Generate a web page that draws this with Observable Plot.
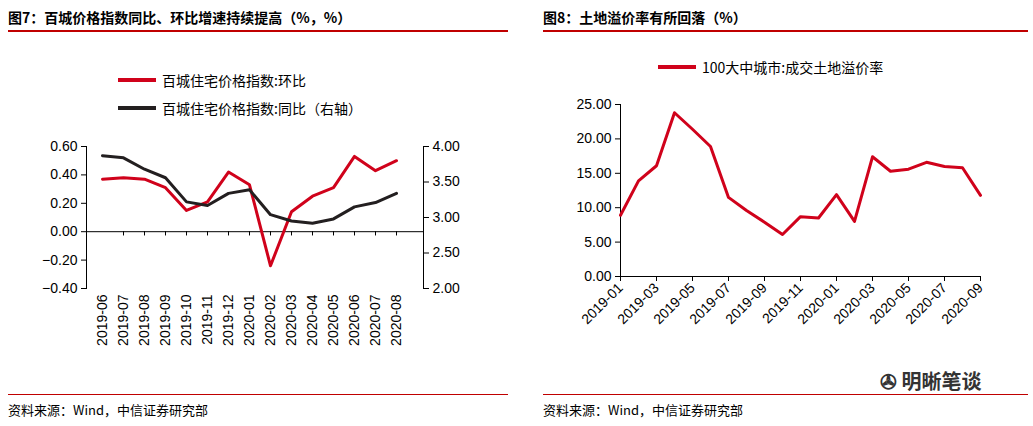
<!DOCTYPE html>
<html><head><meta charset="utf-8">
<script src="https://cdn.jsdelivr.net/npm/d3@7"></script>
<script src="https://cdn.jsdelivr.net/npm/@observablehq/plot@0.6"></script>
<style>
body{margin:0;width:1033px;height:426px;background:#fff;font-family:"Noto Sans CJK SC",sans-serif;position:relative;overflow:hidden}
.abs{position:absolute}
.title{font-size:14px;font-weight:bold;color:#000}
.foot{font-size:13px;color:#000}
.hr{height:2px;background:#c00000}
.hr2{height:1px;background:#c00000}
.leg{font-size:14px;display:flex;align-items:center;gap:6px}
.sw{width:38px;height:4px}
svg text{font-family:Arial,"Liberation Sans",sans-serif}
</style></head><body>
<div class="abs title" style="left:8px;top:7px">图7：百城价格指数同比、环比增速持续提高（%，%）</div>
<div class="abs hr" style="left:8px;top:30px;width:500px"></div>
<div class="abs title" style="left:543px;top:7px">图8：土地溢价率有所回落（%）</div>
<div class="abs hr" style="left:543px;top:30px;width:485px"></div>
<div class="abs hr2" style="left:8px;top:394px;width:500px"></div>
<div class="abs hr2" style="left:543px;top:394px;width:485px"></div>
<div class="abs foot" style="left:8px;top:400px">资料来源：Wind，中信证券研究部</div>
<div class="abs foot" style="left:543px;top:400px">资料来源：Wind，中信证券研究部</div>
<div class="abs" style="left:880px;top:366px;font-size:20px;color:#333;font-weight:bold">✇ 明晰笔谈</div>
<div class="abs leg" style="left:118px;top:70px"><div class="sw" style="background:#d0021b"></div>百城住宅价格指数:环比</div>
<div class="abs leg" style="left:118px;top:98px"><div class="sw" style="background:#231f20"></div>百城住宅价格指数:同比（右轴）</div>
<div class="abs leg" style="left:658px;top:57px"><div class="sw" style="background:#d0021b"></div>100大中城市:成交土地溢价率</div>
<div id="c1" class="abs" style="left:0;top:135px"></div>
<div id="c2" class="abs" style="left:540px;top:95px"></div>
<script>
const months1=["2019-06","2019-07","2019-08","2019-09","2019-10","2019-11","2019-12","2020-01","2020-02","2020-03","2020-04","2020-05","2020-06","2020-07","2020-08"];
const mom=[0.37,0.38,0.37,0.31,0.15,0.21,0.42,0.33,-0.24,0.14,0.25,0.31,0.53,0.43,0.50];
const yoy=[3.87,3.84,3.68,3.56,3.22,3.17,3.34,3.39,3.04,2.95,2.92,2.98,3.15,3.21,3.34];
const leftTicks=[-0.4,-0.2,0,0.2,0.4,0.6];
const rightTicks=[2,2.5,3,3.5,4];
const months2=["2019-01","2019-02","2019-03","2019-04","2019-05","2019-06","2019-07","2019-08","2019-09","2019-10","2019-11","2019-12","2020-01","2020-02","2020-03","2020-04","2020-05","2020-06","2020-07","2020-08","2020-09"];
const premium=[8.9,13.9,16.1,23.8,21.4,18.9,11.5,9.6,7.9,6.1,8.7,8.5,11.9,8.0,17.4,15.3,15.6,16.6,16.0,15.8,11.8];
const rTicks2=[0,5,10,15,20,25];

const toLeft=v=>(v-2)/2-0.4, toRight=v=>2+(v+0.4)*2;
const t1=months1.map((m,i)=>({m,mom:mom[i],yoy:toLeft(yoy[i])}));
const p1=Plot.plot({width:510,height:228,marginLeft:86,marginRight:87,marginTop:11,marginBottom:75,
 x:{type:"point",domain:months1,range:[86,412],label:null},
 y:{domain:[-0.4,0.6],label:null},
 style:{fontSize:"14px",color:"#000"},
 marks:[
  Plot.frame({anchor:"left",stroke:"#000"}),
  Plot.frame({anchor:"right",stroke:"#000"}),
  Plot.ruleY([0],{stroke:"#000"}),
  Plot.ruleX(months1.slice(1),{x:d=>d,y1:0,y2:-0.03,stroke:"#000"}),
  Plot.axisY(leftTicks,{anchor:"left",label:null,tickFormat:d3.format(".2f"),tickSize:5,tickPadding:4,fontSize:14}),
  Plot.axisY(rightTicks.map(toLeft),{anchor:"right",label:null,tickFormat:d=>d3.format(".2f")(toRight(d)),tickSize:5,tickPadding:4,fontSize:14}),
  Plot.axisX({anchor:"bottom",label:null,tickSize:0,tickRotate:-90,tickPadding:6,fontSize:14}),
  Plot.line(t1,{x:"m",y:"mom",stroke:"#d0021b",strokeWidth:3}),
  Plot.line(t1,{x:"m",y:"yoy",stroke:"#231f20",strokeWidth:3})
 ]});
document.getElementById("c1").append(p1);

const t2=months2.map((m,i)=>({m,v:premium[i]}));
const ev=months2.filter((d,i)=>i%2==0);
const p2=Plot.plot({width:470,height:261,marginLeft:80,marginRight:30,marginTop:9,marginBottom:80,
 x:{type:"point",domain:months2,padding:0,label:null},
 y:{domain:[0,25],label:null},
 style:{fontSize:"14px",color:"#000"},
 marks:[
  Plot.frame({anchor:"left",stroke:"#000"}),
  Plot.frame({anchor:"bottom",stroke:"#000"}),
  Plot.axisY(rTicks2,{anchor:"left",label:null,tickFormat:d3.format(".2f"),tickSize:5,tickPadding:4,fontSize:14}),
  Plot.axisX(ev,{anchor:"bottom",label:null,tickSize:5,tickRotate:-45,tickPadding:4,fontSize:14,textAnchor:"end"}),
  Plot.line(t2,{x:"m",y:"v",stroke:"#d0021b",strokeWidth:3})
 ]});
document.getElementById("c2").append(p2);
</script></body></html>
